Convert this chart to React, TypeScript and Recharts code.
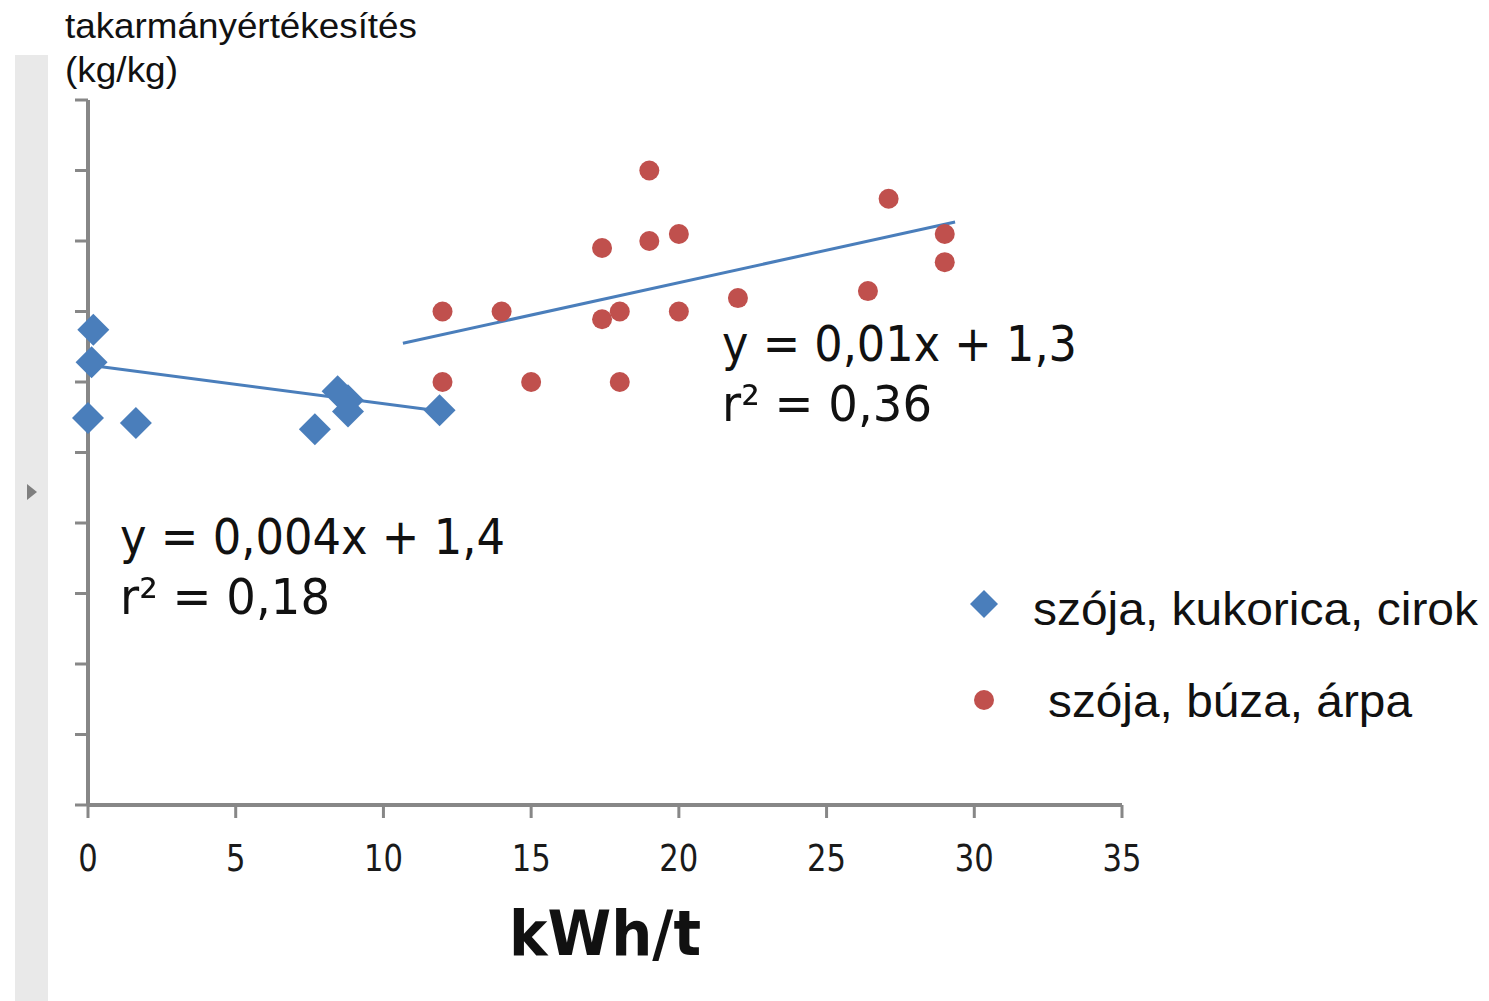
import React from 'react';
import { ScatterChart, Scatter, XAxis, YAxis, Legend } from 'recharts';

// axis ticks (y ticks are drawn without labels, as in the source)
const xTicks = [0, 5, 10, 15, 20, 25, 30, 35];
const yTicks = [0.8, 0.9, 1.0, 1.1, 1.2, 1.3, 1.4, 1.5, 1.6, 1.7, 1.8];

// szója, kukorica, cirok
const kukoricaX = [0.18, 0.12, 0, 1.62, 7.68, 8.45, 8.8, 8.8, 11.9];
const kukoricaY = [1.474, 1.428, 1.349, 1.342, 1.333, 1.387, 1.374, 1.358, 1.36];

// szója, búza, árpa
const arpaX = [12.0, 12.0, 14.0, 15.0, 17.4, 17.4, 18.0, 18.0, 19.0, 19.0, 20.0, 20.0, 22.0, 26.4, 27.1, 29.0, 29.0];
const arpaY = [1.5, 1.4, 1.5, 1.4, 1.59, 1.489, 1.5, 1.4, 1.7, 1.6, 1.61, 1.5, 1.519, 1.529, 1.66, 1.61, 1.57];

// trend line end points
const kukoricaTrendX = [0, 11.9];
const kukoricaTrendY = [1.424, 1.359];
const arpaTrendX = [10.66, 29.35];
const arpaTrendY = [1.455, 1.627];

const seriesNames = ['szója, kukorica, cirok', 'szója, búza, árpa'];

const BLUE = '#4a7ebb';
const RED = '#c0504d';
const AXIS = '#878787';

const toPoints = (xs: number[], ys: number[]) => xs.map((x, i) => ({ x, y: ys[i] }));

const Diamond = (props: any) => {
  const { cx, cy } = props;
  const r = 16;
  return <polygon points={`${cx},${cy - r} ${cx + r},${cy} ${cx},${cy + r} ${cx - r},${cy}`} fill={BLUE} />;
};

const Dot = (props: any) => <circle cx={props.cx} cy={props.cy} r={10} fill={RED} />;

const NoShape = () => <g />;

// y ticks keep their tick marks but show no text
const BlankTick = () => <g />;

const XTick = (props: any) => {
  const { x, y, payload } = props;
  const s = String(payload.value);
  return (
    <text
      x={x}
      y={y + 51}
      textAnchor="middle"
      fontFamily="DejaVu Sans"
      fontSize={38}
      fill="#1a1a1a"
      textLength={s.length * 19.5}
      lengthAdjust="spacingAndGlyphs"
    >
      {s}
    </text>
  );
};

const XTitle = (props: any) => {
  const { viewBox } = props;
  return (
    <text
      x={viewBox.x + viewBox.width / 2}
      y={viewBox.y + 150}
      textAnchor="middle"
      fontFamily="DejaVu Sans"
      fontWeight="bold"
      fontSize={62}
      fill="#111"
      textLength={192}
      lengthAdjust="spacingAndGlyphs"
    >
      kWh/t
    </text>
  );
};

const LegendBox = () => (
  <svg width={529} height={170}>
    <polygon points="24,20 38,34 24,48 10,34" fill={BLUE} />
    <text x={73} y={55} fontFamily="Liberation Sans" fontSize={47} fill="#111" textLength={445} lengthAdjust="spacingAndGlyphs">
      {seriesNames[0]}
    </text>
    <circle cx={24} cy={130} r={10} fill={RED} />
    <text x={88} y={147} fontFamily="Liberation Sans" fontSize={47} fill="#111" textLength={364} lengthAdjust="spacingAndGlyphs">
      {seriesNames[1]}
    </text>
  </svg>
);

const eqFont = { fontFamily: 'DejaVu Sans', fontSize: 50, fill: '#111' };

export default function App() {
  return (
    <div style={{ position: 'absolute', left: 0, top: 0, width: 1489, height: 1001, background: '#fff' }}>
      <div style={{ position: 'absolute', left: 15, top: 55, width: 33, height: 946, background: '#e9e9e9' }} />
      <svg style={{ position: 'absolute', left: 0, top: 0 }} width={1489} height={1001}>
        <polygon points="27,484 37,492 27,500" fill="#7f7f7f" />
        <text x={65} y={38} fontFamily="Liberation Sans" fontSize={35} fill="#111" textLength={352} lengthAdjust="spacingAndGlyphs">
          takarmányértékesítés
        </text>
        <text x={65} y={82} fontFamily="Liberation Sans" fontSize={35} fill="#111" textLength={113} lengthAdjust="spacingAndGlyphs">
          (kg/kg)
        </text>
      </svg>
      <div style={{ position: 'absolute', left: 0, top: 0 }}>
        <ScatterChart width={1489} height={1001} margin={{ top: 100, right: 367, bottom: 136, left: 28 }}>
          <XAxis
            type="number"
            dataKey="x"
            domain={[0, 35]}
            ticks={xTicks}
            height={60}
            tickSize={13}
            tick={<XTick />}
            axisLine={{ stroke: AXIS, strokeWidth: 4 }}
            tickLine={{ stroke: AXIS, strokeWidth: 3 }}
            label={<XTitle />}
          />
          <YAxis
            type="number"
            dataKey="y"
            domain={[0.8, 1.8]}
            ticks={yTicks}
            width={60}
            tickSize={13}
            tick={<BlankTick />}
            axisLine={{ stroke: AXIS, strokeWidth: 4 }}
            tickLine={{ stroke: AXIS, strokeWidth: 3 }}
          />
          <Legend
            layout="horizontal"
            verticalAlign="middle"
            align="center"
            content={<LegendBox />}
            wrapperStyle={{ left: 960, top: 570, width: 529, height: 170 }}
          />
          <Scatter
            name="trend1"
            data={toPoints(kukoricaTrendX, kukoricaTrendY)}
            line={{ stroke: BLUE, strokeWidth: 3 }}
            shape={<NoShape />}
            legendType="none"
            isAnimationActive={false}
          />
          <Scatter
            name="trend2"
            data={toPoints(arpaTrendX, arpaTrendY)}
            line={{ stroke: BLUE, strokeWidth: 3 }}
            shape={<NoShape />}
            legendType="none"
            isAnimationActive={false}
          />
          <Scatter
            name={seriesNames[1]}
            data={toPoints(arpaX, arpaY)}
            shape={<Dot />}
            isAnimationActive={false}
          />
          <Scatter
            name={seriesNames[0]}
            data={toPoints(kukoricaX, kukoricaY)}
            shape={<Diamond />}
            isAnimationActive={false}
          />
        </ScatterChart>
      </div>
      <svg style={{ position: 'absolute', left: 0, top: 0, pointerEvents: 'none' }} width={1489} height={1001}>
        <text x={722} y={361} {...eqFont} textLength={355} lengthAdjust="spacingAndGlyphs">y = 0,01x + 1,3</text>
        <text x={722} y={421} {...eqFont} textLength={210} lengthAdjust="spacingAndGlyphs">r² = 0,36</text>
        <text x={120} y={554} {...eqFont} textLength={385} lengthAdjust="spacingAndGlyphs">y = 0,004x + 1,4</text>
        <text x={120} y={614} {...eqFont} textLength={210} lengthAdjust="spacingAndGlyphs">r² = 0,18</text>
      </svg>
    </div>
  );
}
